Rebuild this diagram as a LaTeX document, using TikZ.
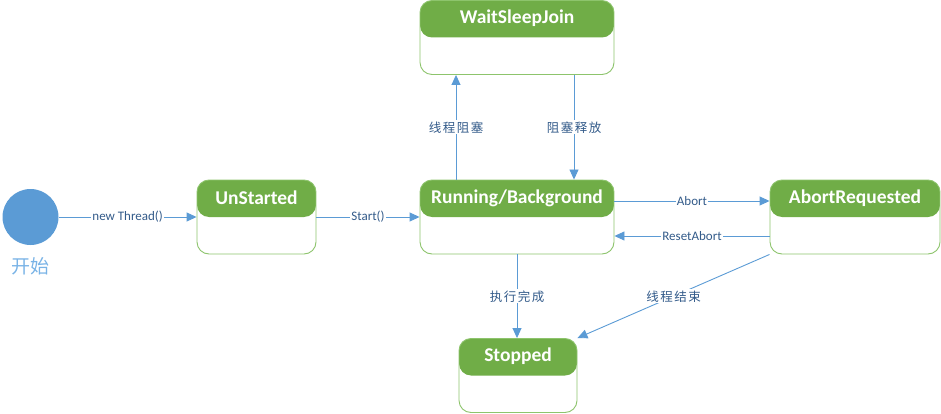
\documentclass[tikz,border=0pt]{standalone}
\usepackage{fontspec}
\setmainfont{Carlito}
\newfontfamily\cjk{Noto Sans CJK SC}
\newfontfamily\cjkwide[LetterSpace=12]{Noto Sans CJK SC}
\usepackage{tikz}
\usetikzlibrary{positioning, arrows.meta}
\definecolor{stategreen}{HTML}{70AD47}
\definecolor{stateedge}{HTML}{8DC46C}
\definecolor{lineblue}{HTML}{5B9BD5}
\definecolor{textblue}{HTML}{335B8A}
\definecolor{starttext}{HTML}{79B3E6}

\begin{document}
\begin{tikzpicture}[x=1pt, y=-1pt]
\tikzstyle{state}=[draw=stateedge, line width=0.9pt, rounded corners=12pt, fill=white, minimum height=74pt, inner sep=0pt,
  path picture={\fill[stategreen] (path picture bounding box.north west) rectangle ([yshift=-37pt]path picture bounding box.north east);}]
\tikzstyle{title}=[text=white, font=\fontsize{19.5}{22}\selectfont\bfseries, inner sep=0pt]
\tikzstyle{link}=[draw=lineblue, line width=0.9pt, -{Triangle[length=10pt, width=9pt]}]
\tikzstyle{lbl}=[fill=white, text=textblue, font=\fontsize{13}{15}\selectfont, inner sep=1pt]
\tikzstyle{cjklbl}=[lbl, font=\fontsize{12.5}{15}\selectfont\cjkwide]

\useasboundingbox (0,0) rectangle (941,414);

\node[circle, fill=lineblue, minimum size=56pt, inner sep=0pt](start) at (30.5,217) {};
\node[text=starttext, font=\fontsize{19}{22}\selectfont\cjk](start-text) at (31,266) {开始};

\node[state, minimum width=119pt](unstarted) at (256.5,217) {};
\node[state, minimum width=194pt](running) at (517,217) {};
\node[state, minimum width=194pt](wait) at (517,37.5) {};
\node[state, minimum width=170pt](abort) at (855,217) {};
\node[state, minimum width=118pt](stopped) at (518,375.5) {};

\node[title] at ([yshift=-18.5pt]unstarted.north) {UnStarted};
\node[title] at ([yshift=-18.5pt]running.north) {Running/Background};
\node[title] at ([yshift=-18.5pt]wait.north) {WaitSleepJoin};
\node[title] at ([yshift=-18.5pt]abort.north) {AbortRequested};
\node[title] at ([yshift=-18.5pt]stopped.north) {Stopped};

\path[link] (start) -- node[lbl]{new Thread()} (unstarted);
\path[link] (unstarted) -- node[lbl]{Start()} (running);
\path[link] ([yshift=16pt]running.east) -- node[lbl]{Abort} ([yshift=16pt]abort.west);
\path[link] ([yshift=-19pt]abort.west) -- node[lbl]{ResetAbort} ([yshift=-19pt]running.east);
\path[link] ([xshift=-61pt]running.north) -- node[cjklbl]{线程阻塞} ([xshift=-61pt]wait.south);
\path[link] ([xshift=57pt]wait.south) -- node[cjklbl]{阻塞释放} ([xshift=57pt]running.north);
\path[link] (running.south) -- node[cjklbl]{执行完成} (running.south |- stopped.north);
\path[link] (abort.south west) -- node[cjklbl]{线程结束} (stopped.north east);

\end{tikzpicture}
\end{document}
